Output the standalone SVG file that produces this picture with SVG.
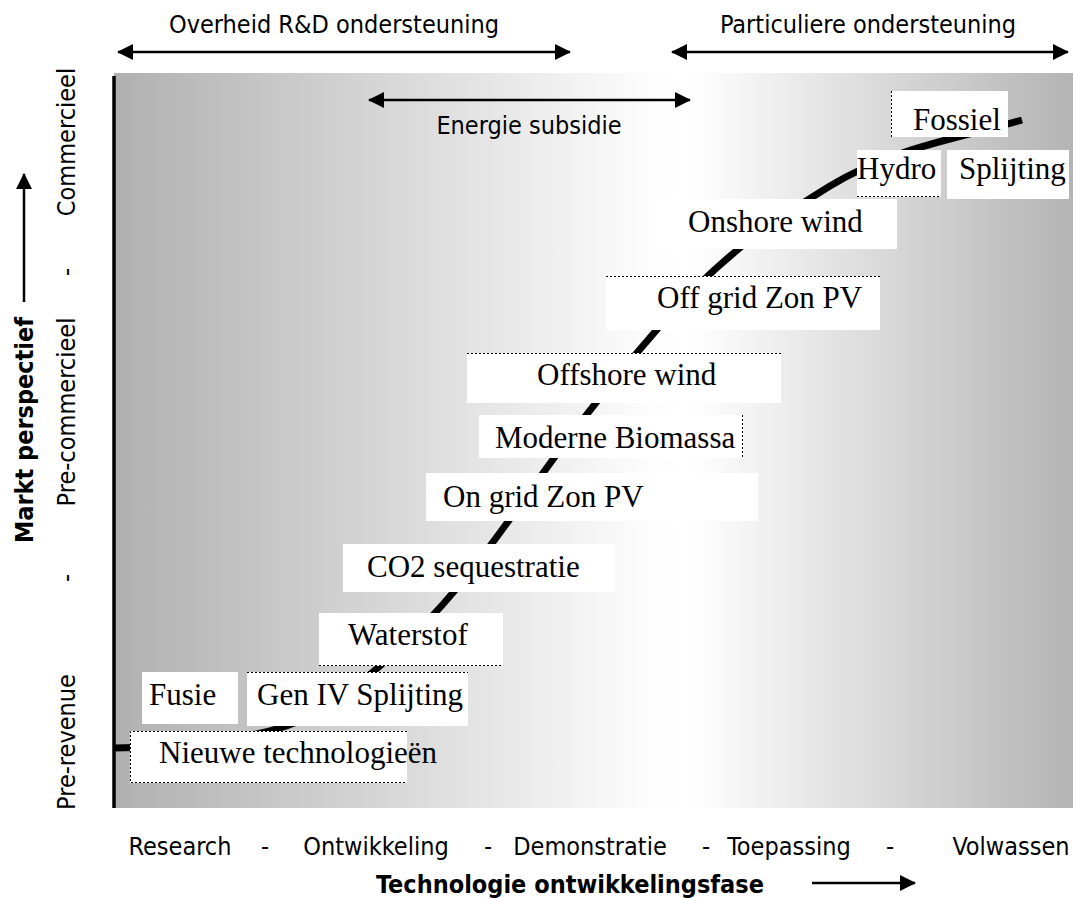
<svg xmlns="http://www.w3.org/2000/svg" width="1073" height="898" viewBox="0 0 1073 898">
  <defs>
    <linearGradient id="bg" x1="114" y1="0" x2="1073" y2="0" gradientUnits="userSpaceOnUse">
      <stop offset="0" stop-color="#b0b0b0"/>
      <stop offset="0.56" stop-color="#fdfdfd"/>
      <stop offset="0.6" stop-color="#ffffff"/>
      <stop offset="1" stop-color="#b4b4b4"/>
    </linearGradient>
    <marker id="ah" viewBox="0 0 16 16" refX="15" refY="8" markerWidth="16" markerHeight="16" markerUnits="userSpaceOnUse" orient="auto-start-reverse">
      <path d="M0,0 L16,8 L0,16 Z" fill="#000"/>
    </marker>
  </defs>
  <style>
    .sans { font-family: "DejaVu Sans Condensed", "DejaVu Sans", sans-serif; font-stretch: condensed; font-size: 25px; fill: #000; }
    .bold { font-weight: bold; }
    .lbl { font-family: "Liberation Serif", "Times New Roman", serif; font-size: 31px; fill: #000; }
    .box { fill: #fff; stroke: none; }
    .dot { stroke: #000; stroke-width: 1; stroke-dasharray: 2,2; fill: none; }
    .arr { stroke: #000; stroke-width: 2.5; fill: none; }
  </style>

  <rect x="114" y="73" width="959" height="735" fill="url(#bg)"/>
  <line x1="114" y1="76" x2="114" y2="808" stroke="#000" stroke-width="3.5"/>

  <g id="curve">
    <path d="M114,748 C180,747 240,740 280,728 S360,685 400,648 S470,575 520,505 S600,395 660,326 S768,224 830,186 S960,138 1022,120" fill="none" stroke="#000" stroke-width="7"/>
  </g>

  <g id="connectors">
    <line class="arr" x1="118" y1="52" x2="570" y2="52" marker-start="url(#ah)" marker-end="url(#ah)"/>
    <line class="arr" x1="672" y1="52" x2="1068" y2="52" marker-start="url(#ah)" marker-end="url(#ah)"/>
    <line class="arr" x1="369" y1="100" x2="690" y2="100" marker-start="url(#ah)" marker-end="url(#ah)"/>
    <line class="arr" x1="24" y1="302" x2="24" y2="174" marker-end="url(#ah)"/>
    <line class="arr" x1="812" y1="883" x2="915" y2="883" marker-end="url(#ah)"/>
  </g>

  <g id="top-labels">
    <text class="sans" x="334" y="33" text-anchor="middle">Overheid R&amp;D ondersteuning</text>
    <text class="sans" x="868" y="33" text-anchor="middle">Particuliere ondersteuning</text>
    <text class="sans" x="529" y="134" text-anchor="middle">Energie subsidie</text>
  </g>

  <g id="y-axis">
    <text class="sans bold" transform="translate(33,430) rotate(-90)" text-anchor="middle">Markt perspectief</text>
    <text class="sans" transform="translate(75,142) rotate(-90)" text-anchor="middle">Commercieel</text>
    <text class="sans" transform="translate(75,272) rotate(-90)" text-anchor="middle">-</text>
    <text class="sans" transform="translate(75,412) rotate(-90)" text-anchor="middle">Pre-commercieel</text>
    <text class="sans" transform="translate(75,578) rotate(-90)" text-anchor="middle">-</text>
    <text class="sans" transform="translate(75,742) rotate(-90)" text-anchor="middle">Pre-revenue</text>
  </g>

  <g id="x-axis">
    <text class="sans" x="180" y="855" text-anchor="middle">Research</text>
    <text class="sans" x="265" y="855" text-anchor="middle">-</text>
    <text class="sans" x="376" y="855" text-anchor="middle">Ontwikkeling</text>
    <text class="sans" x="488" y="855" text-anchor="middle">-</text>
    <text class="sans" x="590" y="855" text-anchor="middle">Demonstratie</text>
    <text class="sans" x="706" y="855" text-anchor="middle">-</text>
    <text class="sans" x="789" y="855" text-anchor="middle">Toepassing</text>
    <text class="sans" x="890" y="855" text-anchor="middle">-</text>
    <text class="sans" x="1011" y="855" text-anchor="middle">Volwassen</text>
    <text class="sans bold" x="570" y="893" text-anchor="middle">Technologie ontwikkelingsfase</text>
  </g>

  <g id="node-nieuwe">
    <rect class="box" x="130" y="731" width="277" height="52"/>
    <path class="dot" d="M407,731.5 H130.5 V782.5 H407"/>
    <text class="lbl" x="159" y="763">Nieuwe technologieën</text>
  </g>
  <g id="node-fusie">
    <rect class="box" x="142" y="672" width="96" height="52"/>
    <text class="lbl" x="149" y="705">Fusie</text>
  </g>
  <g id="node-geniv">
    <rect class="box" x="247" y="672" width="221" height="54"/>
    <path class="dot" d="M247,672.5 H468"/>
    <text class="lbl" x="257" y="705">Gen IV Splijting</text>
  </g>
  <g id="node-waterstof">
    <rect class="box" x="319" y="613" width="184" height="53"/>
    <path class="dot" d="M319,665.5 H503"/>
    <text class="lbl" x="348" y="645">Waterstof</text>
  </g>
  <g id="node-co2">
    <rect class="box" x="343" y="544" width="272" height="48"/>
    <text class="lbl" x="367" y="577">CO2 sequestratie</text>
  </g>
  <g id="node-ongrid">
    <rect class="box" x="426" y="473" width="332" height="48"/>
    <text class="lbl" x="443" y="507">On grid Zon PV</text>
  </g>
  <g id="node-biomassa">
    <rect class="box" x="479" y="415" width="264" height="43"/>
    <path class="dot" d="M742.5,415 V458"/>
    <text class="lbl" x="495" y="448">Moderne Biomassa</text>
  </g>
  <g id="node-offshore">
    <rect class="box" x="467" y="353" width="314" height="50"/>
    <path class="dot" d="M467,353.5 H781"/>
    <text class="lbl" x="537" y="385">Offshore wind</text>
  </g>
  <g id="node-offgrid">
    <rect class="box" x="606" y="276" width="274" height="54"/>
    <path class="dot" d="M606,276.5 H880"/>
    <text class="lbl" x="657" y="308">Off grid Zon PV</text>
  </g>
  <g id="node-onshore">
    <rect class="box" x="650" y="199" width="247" height="50"/>
    <text class="lbl" x="688" y="232">Onshore wind</text>
  </g>
  <g id="node-hydro">
    <rect class="box" x="857" y="150" width="84" height="47"/>
    <path class="dot" d="M857,196.5 H941"/>
    <text class="lbl" x="857" y="179">Hydro</text>
  </g>
  <g id="node-splijting">
    <rect class="box" x="947" y="150" width="122" height="49"/>
    <text class="lbl" x="959" y="179">Splijting</text>
  </g>
  <g id="node-fossiel">
    <rect class="box" x="891" y="91" width="117" height="46"/>
    <path class="dot" d="M891.5,91 V137"/>
    <text class="lbl" x="913" y="130">Fossiel</text>
  </g>
</svg>
